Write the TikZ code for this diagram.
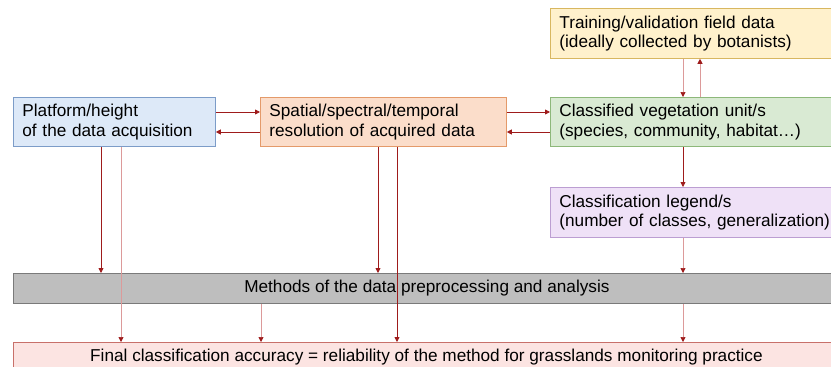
\documentclass[tikz,border=0pt]{standalone}
\usepackage{fontspec}
\setmainfont{Liberation Sans}
\usetikzlibrary{arrows.meta}
\definecolor{bluef}{HTML}{DDE9F8}\definecolor{blued}{HTML}{7C9CC8}
\definecolor{orangef}{HTML}{FBDDCA}\definecolor{oranged}{HTML}{E49A6A}
\definecolor{yellowf}{HTML}{FFF1CC}\definecolor{yellowd}{HTML}{D8B760}
\definecolor{greenf}{HTML}{D9EAD3}\definecolor{greend}{HTML}{8DB87A}
\definecolor{purplef}{HTML}{EFE1F7}\definecolor{purpled}{HTML}{BC9ED2}
\definecolor{grayf}{HTML}{BEBEBE}\definecolor{grayd}{HTML}{7A7A7A}
\definecolor{redf}{HTML}{FCE4E2}\definecolor{redd}{HTML}{C8706A}
\definecolor{darkline}{HTML}{9E1B1B}\definecolor{lightline}{HTML}{DC9A9A}
\tikzset{
  box/.style={draw, line width=0.8pt, inner xsep=9pt, inner ysep=0pt, anchor=north west,
    align=left, font=\fontsize{17.2}{19.5}\selectfont},
  darr/.style={draw=darkline, line width=0.8pt, -{Triangle[length=5pt,width=5pt,fill=darkline]}},
  larr/.style={draw=lightline, line width=0.7pt, -{Triangle[length=5pt,width=5pt,fill=darkline,color=darkline]}},
}
\begin{document}
\begin{tikzpicture}[x=1pt,y=-1pt]
\useasboundingbox (0,0) rectangle (831,367);
\clip (0,0) rectangle (831,367);
\node[box, fill=bluef, draw=blued, minimum width=202, minimum height=49, text width=184] (blue) at (13,97) {Platform/height\\of the data acquisition};
\node[box, fill=orangef, draw=oranged, minimum width=246, minimum height=49, text width=228] (orange) at (260,97) {Spatial/spectral/temporal\\resolution of acquired data};
\node[box, fill=greenf, draw=greend, minimum width=290, minimum height=49, text width=272] (green) at (550,97) {Classified vegetation unit/s\\(species, community, habitat\ldots)};
\node[box, fill=yellowf, draw=yellowd, minimum width=290, minimum height=50, text width=272] (yellow) at (550,8) {Training/validation field data\\(ideally collected by botanists)};
\node[box, fill=purplef, draw=purpled, minimum width=290, minimum height=50, text width=272] (purple) at (550,187) {Classification legend/s\\(number of classes, generalization)};
\node[box, fill=grayf, draw=grayd, minimum width=827, minimum height=30, align=center] (gray) at (13,273) {Methods of the data preprocessing and analysis};
\node[draw=redd, fill=redf, line width=0.8pt, anchor=north west, minimum width=827, minimum height=40, inner sep=0pt] (final) at (13,342) {};
\node[font=\fontsize{17.2}{19.5}\selectfont] (finaltext) at (426.5,357) {Final classification accuracy = reliability of the method for grasslands monitoring practice};
% horizontal
\draw[darr] (blue.east |- 0,112) -- (orange.west |- 0,112);
\draw[darr] (orange.west |- 0,132) -- (blue.east |- 0,132);
\draw[darr] (orange.east |- 0,112) -- (green.west |- 0,112);
\draw[darr] (green.west |- 0,132) -- (orange.east |- 0,132);
% yellow <-> green
\draw[larr] (yellow.south -| 683,0) -- (green.north -| 683,0);
\draw[larr] (green.north -| 700,0) -- (yellow.south -| 700,0);
% right column
\draw[darr] (green.south -| 683,0) -- (purple.north -| 683,0);
\draw[larr] (purple.south -| 683,0) -- (gray.north -| 683,0);
\draw[larr] (gray.south -| 683,0) -- (final.north -| 683,0);
% from blue
\draw[darr] (blue.south -| 101,0) -- (gray.north -| 101,0);
\draw[larr] (blue.south -| 121,0) -- (final.north -| 121,0);
% from orange
\draw[darr] (orange.south -| 378,0) -- (gray.north -| 378,0);
\draw[darr] (orange.south -| 397,0) -- (final.north -| 397,0);
% gray -> final
\draw[larr] (gray.south -| 261,0) -- (final.north -| 261,0);
\end{tikzpicture}
\end{document}
